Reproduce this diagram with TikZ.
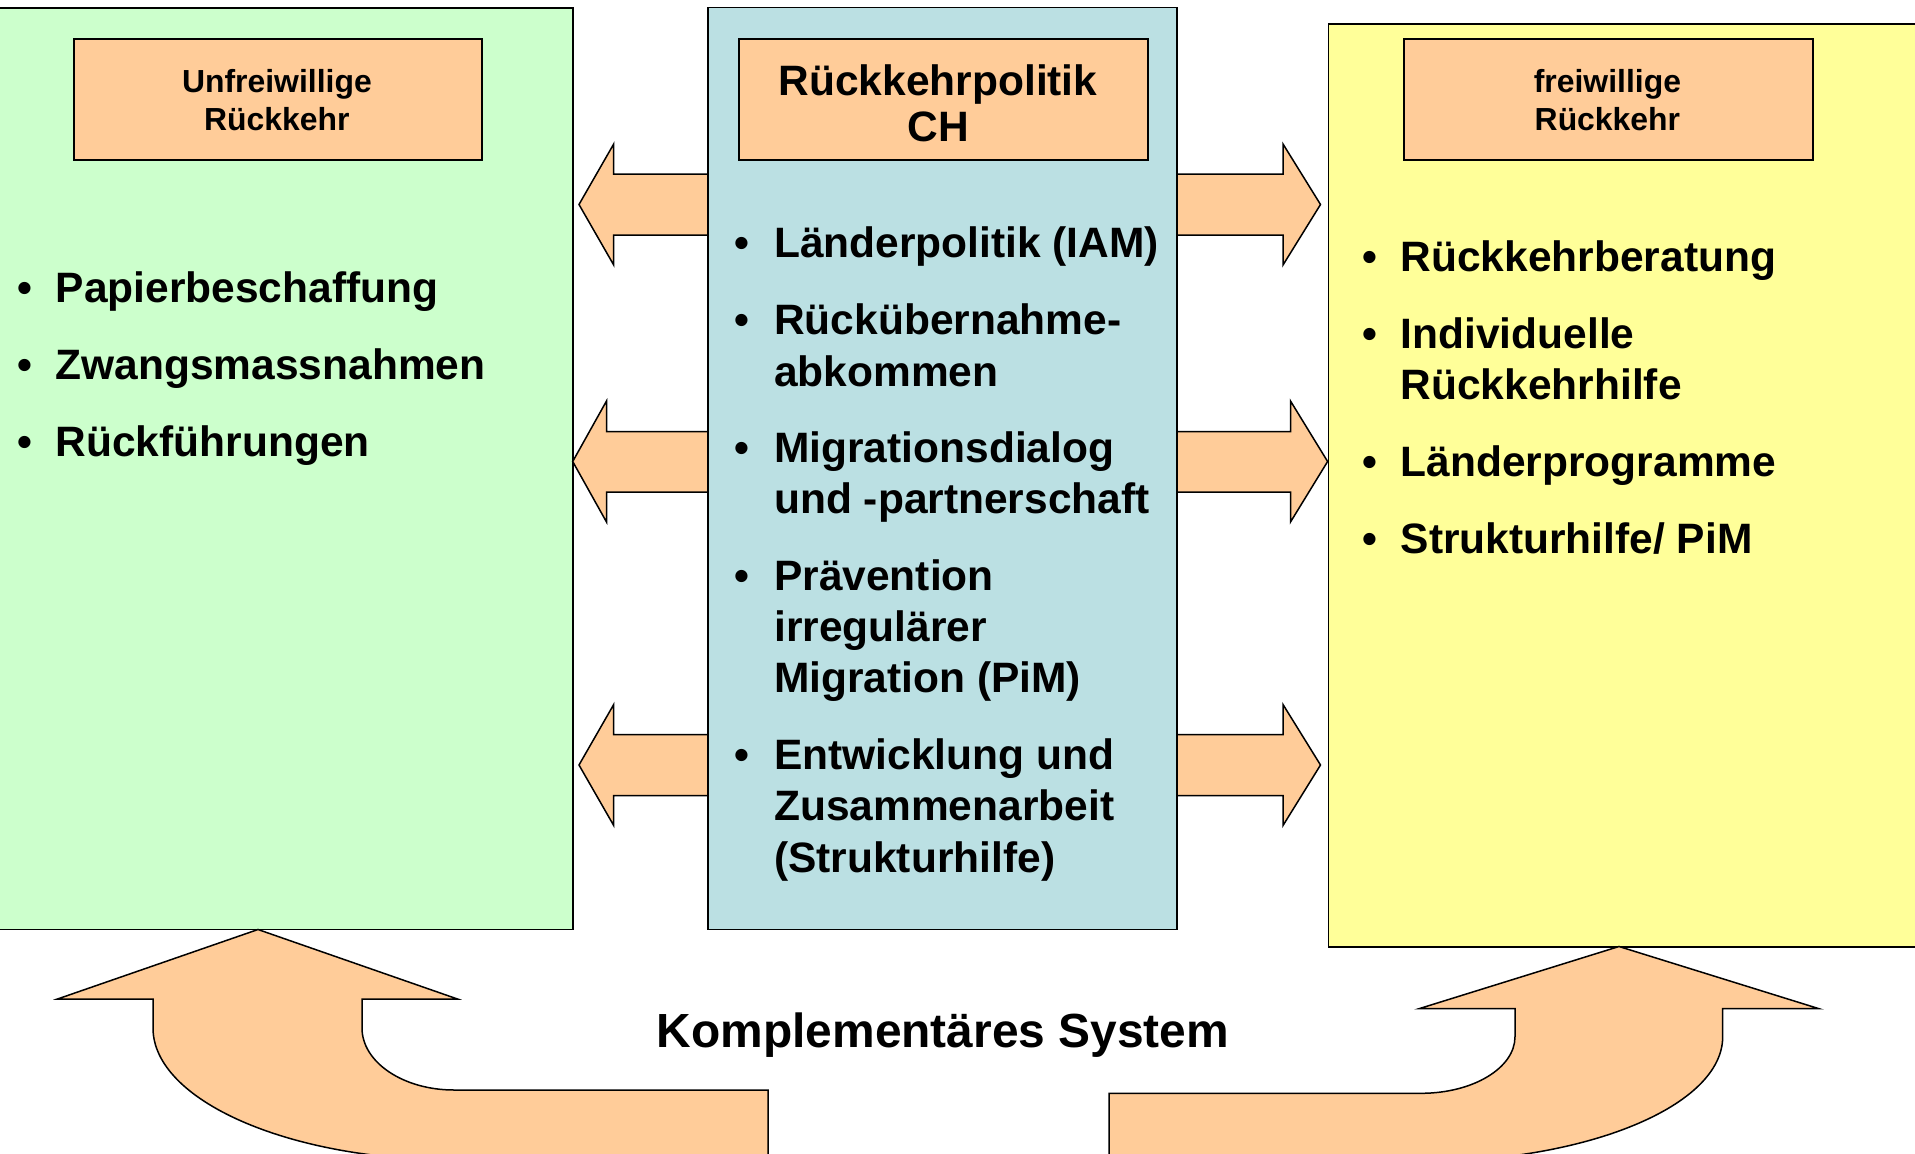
\documentclass[tikz,border=0pt]{standalone}
\usepackage{fontspec}
\setmainfont{Liberation Sans}
\definecolor{boxgreen}{RGB}{204,255,204}
\definecolor{boxblue}{RGB}{187,224,227}
\definecolor{boxyellow}{RGB}{255,255,153}
\definecolor{headorange}{RGB}{255,204,153}
\newcommand\bodyfont{\fontsize{42.5}{51.3}\selectfont\bfseries}
\newcommand\hdfont{\fontsize{31.9}{37.4}\selectfont\bfseries}
\newcommand\titlefont{\fontsize{42.5}{46.7}\selectfont\bfseries}
\newcommand\sysfont{\fontsize{47.9}{56}\selectfont\bfseries}
\newcommand\lstack[1]{\begin{tabular}[t]{@{}l@{}}#1\end{tabular}}
\newcommand\cstack[1]{\begin{tabular}[t]{@{}c@{}}#1\end{tabular}}
\tikzset{
  panel/.style={draw=black, line width=1.8pt, inner sep=0pt, anchor=north west},
  headbox/.style={draw=black, line width=1.8pt, fill=headorange, inner sep=0pt, anchor=north west},
  blockarrow/.style={draw=black, line width=1.5pt, fill=headorange, line join=miter},
  itemtext/.style={inner sep=0pt, anchor=base west, font=\bodyfont},
  bul/.style={inner sep=0pt, anchor=base, font=\bodyfont},
  headtext/.style={inner sep=0pt, anchor=base, font=\hdfont},
}
\begin{document}
\begin{tikzpicture}[x=1pt,y=-1pt]
\useasboundingbox (0,0) rectangle (1915,1154);
\clip (0,0) rectangle (1915,1154);
% outer panels
\node[panel, fill=boxgreen, minimum width=582pt, minimum height=921.5pt] (unfrei) at (-10,7) {};
\node[panel, fill=boxyellow, minimum width=600pt, minimum height=923pt] (frei) at (1327.6,22.7) {};
% double arrows (behind the central panel)
\draw[blockarrow] (579,204.5) -- (613.7,144) -- (613.7,174) -- (1283,174) -- (1283,144) -- (1320.5,204.5)
  -- (1283,265) -- (1283,235) -- (613.7,235) -- (613.7,265) -- cycle;
\draw[blockarrow] (572.7,461.5) -- (606.5,401) -- (606.5,431.5) -- (1290.5,431.5) -- (1290.5,401) -- (1327.6,461.5)
  -- (1290.5,522) -- (1290.5,492) -- (606.5,492) -- (606.5,522) -- cycle;
\draw[blockarrow] (579,765) -- (613.7,704.5) -- (613.7,734.5) -- (1283,734.5) -- (1283,704.5) -- (1320.5,765)
  -- (1283,825.5) -- (1283,795.5) -- (613.7,795.5) -- (613.7,825.5) -- cycle;
% central panel
\node[panel, fill=boxblue, minimum width=469pt, minimum height=922pt] (politik) at (707,6.5) {};
% header boxes
\node[headbox, minimum width=408.3pt, minimum height=121pt] (hunfrei) at (72.7,38.3) {};
\node[headbox, minimum width=409pt, minimum height=121pt] (hpolitik) at (737.7,38.3) {};
\node[headbox, minimum width=409.3pt, minimum height=121pt] (hfrei) at (1402.7,38.3) {};
\node[headtext] (tunfrei) at (276.9,92.7) {\cstack{Unfreiwillige\\Rückkehr}};
\node[headtext, font=\titlefont] (tpolitik) at (938,95) {\cstack{Rückkehrpolitik\\CH}};
\node[headtext] (tfrei) at (1607.4,92.7) {\cstack{freiwillige\\Rückkehr}};
% left bullets
\node[bul] (gb1) at (25,302.7) {•};
\node[itemtext] (g1) at (55.5,302.7) {Papierbeschaffung};
\node[bul] (gb2) at (25,379.7) {•};
\node[itemtext] (g2) at (55.5,379.7) {Zwangsmassnahmen};
\node[bul] (gb3) at (25,456.7) {•};
\node[itemtext] (g3) at (55.5,456.7) {Rückführungen};
% central bullets
\node[bul] (bb1) at (742,257.7) {•};
\node[itemtext] (b1) at (774,257.7) {Länderpolitik (IAM)};
\node[bul] (bb2) at (742,334.7) {•};
\node[itemtext] (b2) at (774,334.7) {\lstack{Rückübernahme-\\abkommen}};
\node[bul] (bb3) at (742,462) {•};
\node[itemtext] (b3) at (774,462) {\lstack{Migrationsdialog\\und -partnerschaft}};
\node[bul] (bb4) at (742,590) {•};
\node[itemtext] (b4) at (774,590) {\lstack{Prävention\\irregulärer\\Migration (PiM)}};
\node[bul] (bb5) at (742,769.5) {•};
\node[itemtext] (b5) at (774,769.5) {\lstack{Entwicklung und\\Zusammenarbeit\\(Strukturhilfe)}};
% right bullets
\node[bul] (yb1) at (1370,271.5) {•};
\node[itemtext] (y1) at (1400.5,271.5) {Rückkehrberatung};
\node[bul] (yb2) at (1370,348.3) {•};
\node[itemtext] (y2) at (1400.5,348.3) {\lstack{Individuelle\\Rückkehrhilfe}};
\node[bul] (yb3) at (1370,476.5) {•};
\node[itemtext] (y3) at (1400.5,476.5) {Länderprogramme};
\node[bul] (yb4) at (1370,553.3) {•};
\node[itemtext] (y4) at (1400.5,553.3) {Strukturhilfe/ PiM};
% bottom curved arrows
\draw[blockarrow] (258,929.5) -- (457.5,999) -- (362,999) -- (362,1028)
  .. controls (362,1062.2) and (403.2,1090) .. (454,1090) -- (768,1090) -- (768,1160) -- (454,1160)
  .. controls (287.8,1160) and (153,1100) .. (153,1028) -- (153,999) -- (57.5,999) -- cycle;
\draw[blockarrow] (1619,946.5) -- (1819,1008.7) -- (1722.7,1008.7) -- (1722.7,1036.7)
  .. controls (1722.7,1105.7) and (1587.6,1161.7) .. (1421,1161.7) -- (1109,1161.7) -- (1109,1093.3) -- (1421,1093.3)
  .. controls (1472.9,1093.3) and (1515,1068) .. (1515,1036.7) -- (1515,1008.7) -- (1419,1008.7) -- cycle;
\node[inner sep=0pt, anchor=base, font=\sysfont] (system) at (943,1047) {Komplementäres System};
\end{tikzpicture}
\end{document}
